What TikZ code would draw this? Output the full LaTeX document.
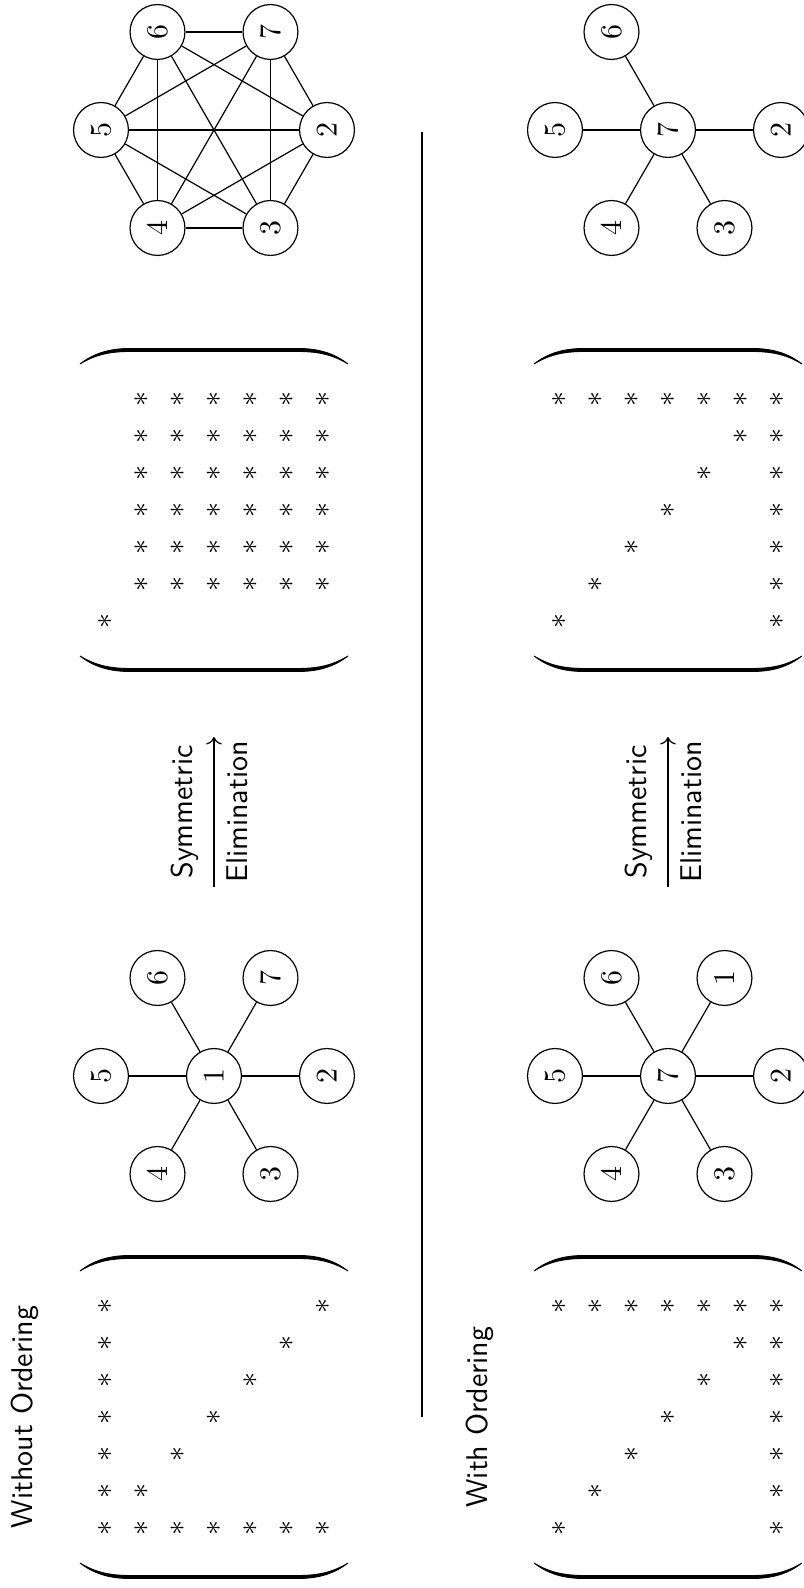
\documentclass[tikz,border=0pt]{standalone}
\usepackage{amsmath,amssymb}
\usepackage{tikz}
\usetikzlibrary{arrows.meta,calc}

% one big bracket of a matrix: #1,#2 centre of the matrix, #3 side (-1 left, 1 right)
\newcommand{\mparen}[3]{%
  \filldraw[line width=0.3pt] ({#1+#3*146},{#2+134}) .. controls ({#1+#3*156},{#2+121}) and ({#1+#3*161.5},{#2+106}) .. ({#1+#3*161.5},{#2+84})
    -- ({#1+#3*161.5},{#2-84}) .. controls ({#1+#3*161.5},{#2-106}) and ({#1+#3*156},{#2-121}) .. ({#1+#3*146},{#2-134})
    .. controls ({#1+#3*154.5},{#2-120}) and ({#1+#3*158.5},{#2-106}) .. ({#1+#3*158.5},{#2-84})
    -- ({#1+#3*158.5},{#2+84}) .. controls ({#1+#3*158.5},{#2+106}) and ({#1+#3*154.5},{#2+120}) .. ({#1+#3*146},{#2+134}) -- cycle;}

\begin{document}
\begin{tikzpicture}[rotate=90, transform shape, x=0.3333pt, y=0.3333pt,
  vert/.style={draw, circle, minimum size=18.3pt, inner sep=0pt},
  entry/.style={inner sep=0pt},
  lbl/.style={anchor=base, font=\sffamily}]
\useasboundingbox (0,0) rectangle (1588,803);

% row labels
\node[lbl] (woLabel) at (171,770) {Without Ordering};
\node[lbl] (wLabel) at (171,315) {With Ordering};

% matrix without ordering
\mparen{171}{589}{(-1)}
\mparen{171}{589}{1}
\foreach \j in {1,...,7}
  \node[entry] (ma-1-\j) at ({171+(\j-4)*37},{589+3*36.3}) {$\ast$};
\foreach \i in {2,...,7} {
  \node[entry] (ma-\i-1) at ({171-3*37},{589+(4-\i)*36.3}) {$\ast$};
  \node[entry] (ma-\i-\i) at ({171+(\i-4)*37},{589+(4-\i)*36.3}) {$\ast$};
}

% star graph, centre 1
\node[vert] (a1) at (512,589) {$1$};
\node[vert] (a5) at (512,702) {$5$};
\node[vert] (a6) at (610,645.5) {$6$};
\node[vert] (a7) at (610,532.5) {$7$};
\node[vert] (a2) at (512,476) {$2$};
\node[vert] (a3) at (414,532.5) {$3$};
\node[vert] (a4) at (414,645.5) {$4$};
\foreach \k in {2,...,7}
  \draw (a1) -- (a\k);

% elimination arrow
\coordinate (arA0) at (701,589);
\coordinate (arA1) at (851,589);
\draw[->] (arA0) -- (arA1);
\node[lbl] (symA) at (776,610) {Symmetric};
\node[lbl] (elimA) at (776,555) {Elimination};

% filled matrix
\mparen{1078}{589}{(-1)}
\mparen{1078}{589}{1}
\node[entry] (mb-1-1) at ({1078-3*37},{589+3*36.3}) {$\ast$};
\foreach \i in {2,...,7}
  \foreach \j in {2,...,7}
    \node[entry] (mb-\i-\j) at ({1078+(\j-4)*37},{589+(4-\i)*36.3}) {$\ast$};

% complete graph after eliminating 1
\node[vert] (c5) at (1458,702) {$5$};
\node[vert] (c6) at (1556,645.5) {$6$};
\node[vert] (c7) at (1556,532.5) {$7$};
\node[vert] (c2) at (1458,476) {$2$};
\node[vert] (c3) at (1360,532.5) {$3$};
\node[vert] (c4) at (1360,645.5) {$4$};
\foreach \p/\q in {2/3,2/4,2/5,2/6,2/7,3/4,3/5,3/6,3/7,4/5,4/6,4/7,5/6,5/7,6/7}
  \draw (c\p) -- (c\q);

% separator
\coordinate (sepL) at (171,381);
\coordinate (sepR) at (1456,381);
\draw (sepL) -- (sepR);

% matrix with ordering
\mparen{171}{135}{(-1)}
\mparen{171}{135}{1}
\foreach \i in {1,...,6} {
  \node[entry] (mc-\i-\i) at ({171+(\i-4)*37},{135+(4-\i)*36.3}) {$\ast$};
  \node[entry] (mc-\i-7) at ({171+3*37},{135+(4-\i)*36.3}) {$\ast$};
}
\foreach \j in {1,...,7}
  \node[entry] (mc-7-\j) at ({171+(\j-4)*37},{135-3*36.3}) {$\ast$};

% star graph, centre 7
\node[vert] (b7) at (512,135) {$7$};
\node[vert] (b5) at (512,248) {$5$};
\node[vert] (b6) at (610,191.5) {$6$};
\node[vert] (b1) at (610,78.5) {$1$};
\node[vert] (b2) at (512,22) {$2$};
\node[vert] (b3) at (414,78.5) {$3$};
\node[vert] (b4) at (414,191.5) {$4$};
\foreach \k in {1,...,6}
  \draw (b7) -- (b\k);

% elimination arrow
\coordinate (arB0) at (701,135);
\coordinate (arB1) at (851,135);
\draw[->] (arB0) -- (arB1);
\node[lbl] (symB) at (776,156) {Symmetric};
\node[lbl] (elimB) at (776,101) {Elimination};

% no fill-in
\mparen{1078}{135}{(-1)}
\mparen{1078}{135}{1}
\foreach \i in {1,...,6} {
  \node[entry] (md-\i-\i) at ({1078+(\i-4)*37},{135+(4-\i)*36.3}) {$\ast$};
  \node[entry] (md-\i-7) at ({1078+3*37},{135+(4-\i)*36.3}) {$\ast$};
}
\foreach \j in {1,...,7}
  \node[entry] (md-7-\j) at ({1078+(\j-4)*37},{135-3*36.3}) {$\ast$};

% graph after eliminating 1
\node[vert] (d7) at (1458,135) {$7$};
\node[vert] (d5) at (1458,248) {$5$};
\node[vert] (d6) at (1556,191.5) {$6$};
\node[vert] (d2) at (1458,22) {$2$};
\node[vert] (d3) at (1360,78.5) {$3$};
\node[vert] (d4) at (1360,191.5) {$4$};
\foreach \k in {2,...,6}
  \draw (d7) -- (d\k);
\end{tikzpicture}
\end{document}
